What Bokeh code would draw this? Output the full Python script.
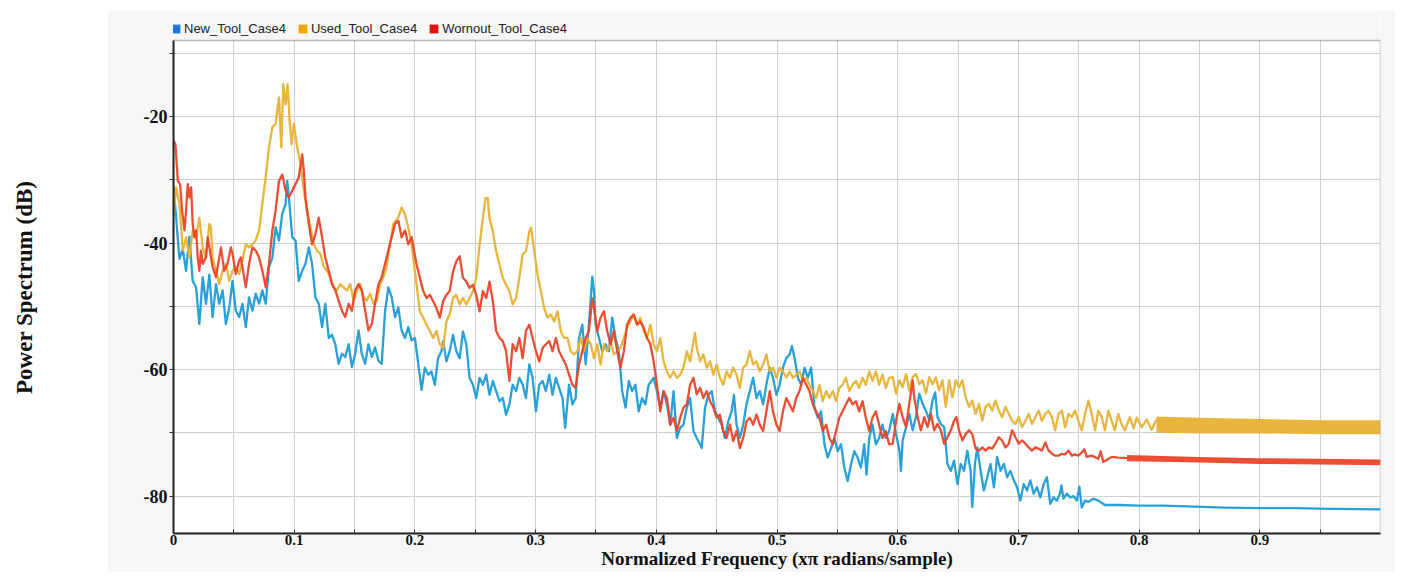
from bokeh.plotting import figure
from bokeh.models import Legend, LegendItem, FixedTicker, Range1d, Label, Spacer, BoxAnnotation
from bokeh.layouts import row, column
from bokeh.embed import file_html
from bokeh.resources import INLINE

# ---------------- data ----------------
series_names = ["New_Tool_Case4", "Used_Tool_Case4", "Wornout_Tool_Case4"]

x_ticks = [0, 0.1, 0.2, 0.3, 0.4, 0.5, 0.6, 0.7, 0.8, 0.9]
x_tick_labels = ["0", "0.1", "0.2", "0.3", "0.4", "0.5", "0.6", "0.7", "0.8", "0.9"]
y_ticks = [-80, -60, -40, -20]
y_tick_labels = ["-80", "-60", "-40", "-20"]

# (normalized frequency, power dB)
new_tool = [
    (0.0, -31.0), (0.0022, -36.0), (0.0049, -42.5), (0.0077, -41.0), (0.0104, -44.4), (0.0132, -39.0),
    (0.0159, -46.0), (0.0187, -47.0), (0.0214, -52.8), (0.0242, -45.4), (0.0269, -49.6), (0.0297, -45.0),
    (0.0324, -51.7), (0.0352, -46.5), (0.0379, -49.6), (0.0407, -47.5), (0.0434, -52.8), (0.0462, -50.2),
    (0.0489, -46.0), (0.0516, -50.7), (0.0544, -51.7), (0.0571, -49.6), (0.0599, -53.3), (0.0626, -48.6),
    (0.0654, -50.7), (0.0681, -48.0), (0.0709, -49.6), (0.0736, -47.5), (0.0764, -49.6), (0.0791, -43.8),
    (0.0819, -42.3), (0.0846, -37.5), (0.0874, -39.6), (0.0901, -35.4), (0.0929, -33.8), (0.0942, -30.2),
    (0.0956, -32.8), (0.0984, -39.1), (0.1011, -39.6), (0.1038, -46.0), (0.1066, -44.4), (0.1093, -43.3),
    (0.1121, -40.7), (0.1148, -43.3), (0.1176, -48.6), (0.1203, -49.6), (0.1231, -53.3), (0.1258, -49.6),
    (0.1286, -55.0), (0.1313, -54.5), (0.1341, -56.0), (0.1368, -59.1), (0.1396, -57.5), (0.1423, -58.0),
    (0.1451, -56.0), (0.1478, -59.6), (0.1505, -57.5), (0.1533, -53.8), (0.156, -57.5), (0.1588, -59.1),
    (0.1615, -56.0), (0.1643, -58.0), (0.167, -56.5), (0.1698, -58.6), (0.1725, -59.1), (0.1753, -50.7),
    (0.178, -47.0), (0.1808, -48.6), (0.1835, -51.7), (0.1863, -50.2), (0.189, -53.8), (0.1918, -55.0),
    (0.1945, -53.3), (0.1973, -55.4),
    (0.2, -55.0), (0.2041, -61.0), (0.2055, -63.2), (0.2082, -59.7), (0.211, -60.8), (0.2137, -60.3),
    (0.2165, -62.4), (0.2192, -58.2), (0.222, -57.1), (0.2234, -55.5), (0.2261, -58.7), (0.2288, -57.1),
    (0.2316, -54.5), (0.2343, -57.1), (0.2371, -58.2), (0.2398, -54.0), (0.2426, -56.0), (0.2453, -61.3),
    (0.2481, -62.4), (0.2508, -64.5), (0.2536, -61.3), (0.2563, -62.4), (0.2591, -60.8), (0.2618, -64.0),
    (0.2646, -61.8), (0.2673, -63.4), (0.2701, -65.0), (0.2728, -64.5), (0.2755, -67.1), (0.2783, -65.5),
    (0.281, -62.4), (0.2838, -63.4), (0.2865, -61.3), (0.2893, -62.4), (0.292, -64.5), (0.2948, -59.2),
    (0.2975, -61.3), (0.3003, -66.6), (0.303, -62.4), (0.3058, -61.8), (0.3085, -63.4), (0.3113, -60.8),
    (0.314, -64.0), (0.3168, -61.3), (0.3195, -62.9), (0.3223, -64.5), (0.3245, -69.2), (0.3277, -62.4),
    (0.3305, -65.5), (0.3332, -64.5), (0.336, -55.0), (0.3387, -52.9), (0.3415, -59.2), (0.3442, -52.9),
    (0.347, -45.3), (0.3484, -47.6), (0.3497, -52.9), (0.3525, -55.0), (0.3552, -57.1), (0.358, -56.0),
    (0.3607, -57.1), (0.3635, -51.8), (0.3662, -55.0), (0.369, -57.1), (0.3717, -63.4), (0.3745, -66.0),
    (0.3772, -61.8), (0.3799, -63.4), (0.3827, -62.4), (0.3854, -66.6), (0.3882, -64.5), (0.3909, -65.5),
    (0.3937, -62.4), (0.3978, -61.3), (0.4005, -63.4),
    (0.4033, -66.0), (0.406, -63.4), (0.4088, -65.5), (0.4115, -68.7), (0.4143, -63.4), (0.417, -70.8),
    (0.4198, -69.2), (0.4225, -68.7), (0.4253, -66.0), (0.428, -64.5), (0.4308, -69.7), (0.4335, -70.8),
    (0.4363, -71.8), (0.4376, -72.4), (0.4404, -66.0), (0.4431, -64.0), (0.4459, -63.4), (0.4486, -66.6),
    (0.4514, -67.6), (0.4541, -68.7), (0.4569, -70.8), (0.4596, -68.2), (0.4624, -66.6), (0.4643, -64.0),
    (0.4665, -68.7), (0.4692, -70.8), (0.472, -68.7), (0.4747, -65.5), (0.4775, -63.4), (0.4802, -61.3),
    (0.483, -64.5), (0.4857, -63.4), (0.4885, -65.5), (0.4912, -62.4), (0.494, -59.7), (0.4967, -61.3),
    (0.4995, -64.0), (0.5022, -62.4), (0.5049, -59.7), (0.5077, -58.2), (0.5104, -57.6), (0.5124, -56.3),
    (0.5146, -58.2), (0.5173, -61.3), (0.5201, -62.4), (0.5228, -59.7), (0.5255, -61.3), (0.5283, -59.7),
    (0.531, -66.0), (0.5338, -67.6), (0.5365, -66.6), (0.5393, -71.8), (0.542, -73.9), (0.5448, -72.4),
    (0.5475, -70.8), (0.5503, -72.9), (0.553, -71.8), (0.5558, -75.5), (0.5585, -77.6), (0.5613, -75.0),
    (0.564, -72.9), (0.5668, -73.9), (0.5695, -75.5), (0.5723, -71.8), (0.5742, -76.6), (0.5764, -70.8),
    (0.5791, -68.7), (0.5819, -71.8), (0.5846, -70.8), (0.5874, -68.7), (0.5901, -70.8), (0.5929, -69.7),
    (0.5959, -67.0), (0.5986, -70.2),
    (0.6014, -72.8), (0.6027, -76.0), (0.6041, -71.2), (0.6069, -69.1), (0.6096, -67.0), (0.6124, -69.6),
    (0.6151, -67.5), (0.6179, -63.8), (0.6206, -65.4), (0.6234, -66.5), (0.6261, -68.0), (0.6288, -64.9),
    (0.631, -63.6), (0.633, -67.5), (0.6357, -68.6), (0.6385, -69.1), (0.6412, -74.9), (0.644, -76.0),
    (0.6467, -74.4), (0.6495, -78.1), (0.6522, -74.9), (0.6549, -76.0), (0.6577, -72.8), (0.6604, -76.0),
    (0.6618, -81.7), (0.664, -74.9), (0.6659, -72.3), (0.6687, -76.0), (0.6714, -79.1), (0.6742, -77.0),
    (0.6769, -74.9), (0.6797, -78.6), (0.6824, -73.8), (0.6852, -76.0), (0.6879, -74.9), (0.6907, -77.0),
    (0.6934, -76.0), (0.6962, -77.5), (0.6989, -78.6), (0.7016, -80.7), (0.7044, -78.1), (0.7071, -79.1),
    (0.7099, -77.5), (0.7126, -79.6), (0.7154, -78.6), (0.7181, -80.2), (0.7209, -78.1), (0.7236, -77.0),
    (0.7264, -81.2), (0.7291, -80.2), (0.7319, -80.7), (0.7346, -79.5), (0.7356, -78.3), (0.7374, -80.4),
    (0.7401, -79.6), (0.7429, -80.2), (0.7456, -80.0), (0.7484, -80.7), (0.7505, -78.5), (0.7525, -81.8),
    (0.7552, -80.7), (0.758, -80.9), (0.7621, -80.4), (0.7662, -80.7), (0.7717, -81.4), (0.7772, -81.4),
    (0.7827, -81.4), (0.80, -81.5), (0.82, -81.5), (0.84, -81.6), (0.87, -81.8), (0.90, -81.9),
    (0.93, -81.9), (0.96, -82.0), (1.0, -82.1),
]

used_tool = [
    (0.0, -35.4), (0.0022, -31.2), (0.0049, -33.8), (0.0077, -41.2), (0.0104, -39.1), (0.0132, -42.3),
    (0.0159, -38.0), (0.0187, -39.1), (0.0214, -36.0), (0.0242, -40.7), (0.0269, -42.3), (0.0297, -37.0),
    (0.031, -37.5), (0.0324, -42.3), (0.0352, -44.4), (0.0379, -46.5), (0.0407, -44.4), (0.0434, -43.3),
    (0.0462, -46.0), (0.0489, -44.4), (0.0516, -43.8), (0.0544, -44.9), (0.0571, -42.8), (0.0599, -40.2),
    (0.0626, -40.7), (0.0654, -40.2), (0.0681, -39.6), (0.0709, -38.0), (0.0736, -33.8), (0.0764, -29.6),
    (0.0791, -24.9), (0.0819, -21.7), (0.0846, -21.2), (0.0874, -17.0), (0.0893, -24.9), (0.0909, -14.9),
    (0.0929, -18.1), (0.0945, -14.9), (0.0962, -20.7), (0.0978, -24.4), (0.0997, -21.2), (0.1025, -24.9),
    (0.1052, -27.5), (0.108, -31.7), (0.1107, -34.9), (0.1135, -37.5), (0.1162, -40.2), (0.119, -41.2),
    (0.1217, -41.7), (0.1245, -43.8), (0.1272, -44.4), (0.1299, -45.4), (0.1327, -47.0), (0.1354, -47.5),
    (0.1382, -46.5), (0.1409, -47.0), (0.1437, -47.5), (0.1464, -46.5), (0.1492, -49.1), (0.1519, -47.5),
    (0.1547, -46.5), (0.1574, -48.6), (0.1602, -49.1), (0.1629, -48.0), (0.1657, -49.6), (0.1684, -49.1),
    (0.1712, -46.5), (0.1739, -45.4), (0.1766, -43.8), (0.1794, -40.2), (0.1821, -37.0), (0.1863, -35.9),
    (0.189, -34.4), (0.1918, -35.5), (0.1945, -37.5), (0.1973, -40.2),
    (0.2014, -46.6), (0.2041, -50.8), (0.2069, -51.8), (0.2096, -52.9), (0.2124, -53.9), (0.2151, -55.0),
    (0.2179, -53.9), (0.2206, -56.0), (0.2234, -56.6), (0.2261, -52.4), (0.2288, -51.3), (0.2316, -48.7),
    (0.2343, -48.2), (0.2371, -49.7), (0.2398, -48.7), (0.2426, -49.7), (0.2453, -48.7), (0.2481, -47.6),
    (0.2508, -45.5), (0.2536, -40.3), (0.2563, -36.1), (0.2585, -32.9), (0.2604, -32.9), (0.2618, -36.1),
    (0.2646, -38.2), (0.2673, -41.3), (0.2701, -43.4), (0.2728, -45.5), (0.2755, -46.6), (0.2783, -47.6),
    (0.281, -49.7), (0.2838, -48.7), (0.2865, -45.5), (0.2893, -41.8), (0.292, -41.3), (0.2948, -38.2),
    (0.2962, -37.6), (0.2989, -41.3), (0.3016, -45.0), (0.3044, -47.6), (0.3071, -50.3), (0.3099, -51.8),
    (0.3126, -51.3), (0.3154, -52.4), (0.3181, -50.8), (0.3209, -53.9), (0.3236, -55.0), (0.3264, -55.0),
    (0.3291, -57.1), (0.3319, -57.6), (0.3346, -57.1), (0.3374, -55.0), (0.3401, -57.1), (0.3429, -55.0),
    (0.3456, -56.0), (0.3484, -58.2), (0.3511, -56.0), (0.3538, -59.2), (0.3566, -56.0), (0.3593, -57.1),
    (0.3621, -55.5), (0.3648, -57.6), (0.3676, -57.1), (0.3703, -56.6), (0.3731, -55.0), (0.3758, -53.4),
    (0.3786, -52.4), (0.3813, -51.3), (0.3841, -52.9), (0.3868, -51.8), (0.3896, -53.9), (0.3923, -55.0),
    (0.3951, -52.9), (0.3978, -56.0), (0.4005, -57.1),
    (0.4033, -55.0), (0.406, -58.7), (0.4088, -60.3), (0.4115, -61.3), (0.4143, -60.3), (0.417, -61.3),
    (0.4198, -60.8), (0.4225, -59.7), (0.4253, -57.1), (0.428, -58.7), (0.4308, -55.5), (0.4321, -54.2),
    (0.4335, -56.6), (0.4363, -58.7), (0.439, -57.6), (0.4418, -59.7), (0.4445, -58.7), (0.4473, -60.8),
    (0.45, -59.2), (0.4527, -61.3), (0.4555, -62.4), (0.4582, -60.3), (0.461, -61.3), (0.4637, -59.7),
    (0.4665, -60.8), (0.4692, -62.9), (0.472, -59.7), (0.4747, -59.2), (0.4775, -57.1), (0.4802, -59.2),
    (0.483, -58.7), (0.4857, -60.3), (0.4885, -59.2), (0.4912, -57.6), (0.494, -60.3), (0.4967, -59.7),
    (0.4995, -61.3), (0.5022, -59.7), (0.5049, -60.3), (0.5077, -61.3), (0.5104, -60.3), (0.5132, -61.3),
    (0.5159, -60.8), (0.5187, -60.3), (0.5214, -61.8), (0.5242, -61.3), (0.5269, -62.4), (0.5297, -63.4),
    (0.5324, -64.5), (0.5352, -62.4), (0.5379, -65.0), (0.5407, -63.4), (0.5434, -64.5), (0.5462, -63.4),
    (0.5489, -65.0), (0.5516, -62.9), (0.5544, -62.4), (0.5571, -61.3), (0.5599, -63.4), (0.5626, -62.4),
    (0.5654, -61.8), (0.5681, -62.9), (0.5709, -61.3), (0.5736, -62.4), (0.5764, -60.3), (0.5791, -61.8),
    (0.5819, -60.3), (0.5846, -62.4), (0.5874, -60.8), (0.5901, -62.9), (0.5929, -61.3), (0.5959, -61.2),
    (0.5986, -63.8),
    (0.6014, -61.7), (0.6041, -62.8), (0.6069, -60.7), (0.6096, -63.3), (0.6124, -61.2), (0.6151, -60.7),
    (0.6179, -62.3), (0.6206, -61.7), (0.6234, -63.8), (0.6261, -61.2), (0.6288, -62.3), (0.6316, -61.2),
    (0.6343, -63.3), (0.6371, -61.7), (0.6398, -65.9), (0.6426, -61.7), (0.6453, -64.4), (0.6481, -61.7),
    (0.6508, -62.8), (0.6536, -61.7), (0.6563, -64.4), (0.6591, -65.9), (0.6618, -64.9), (0.6646, -67.0),
    (0.6673, -65.4), (0.6701, -68.1), (0.6728, -65.9), (0.6755, -65.4), (0.6783, -66.5), (0.681, -64.9),
    (0.6838, -66.5), (0.6865, -67.5), (0.6893, -65.9), (0.692, -67.0), (0.6948, -68.1), (0.6975, -68.6),
    (0.7003, -67.5), (0.703, -69.1), (0.7058, -68.1), (0.7085, -67.0), (0.7113, -68.6), (0.714, -67.5),
    (0.7168, -66.5), (0.7195, -68.1), (0.7223, -67.0), (0.725, -66.5), (0.7277, -67.5), (0.7305, -69.6),
    (0.7332, -67.0), (0.736, -66.5), (0.7387, -69.1), (0.7415, -67.0), (0.7442, -67.5), (0.747, -66.5),
    (0.7497, -68.1), (0.7525, -69.6), (0.7552, -67.0), (0.758, -64.9), (0.7607, -67.0), (0.7635, -69.6),
    (0.7662, -66.5), (0.769, -67.5), (0.7717, -69.6), (0.7745, -66.5), (0.7772, -68.1), (0.7799, -69.6),
    (0.7827, -67.0), (0.7854, -68.6), (0.7882, -69.6), (0.7923, -67.5), (0.7954, -69.3), (0.7981, -67.6),
    (0.8022, -69.1), (0.8063, -67.9), (0.8103, -69.5), (0.8144, -67.9),
]

worn_tool = [
    (0.0, -23.8), (0.0016, -24.4), (0.0036, -30.2), (0.0055, -30.7), (0.0071, -34.9), (0.0091, -38.0),
    (0.0104, -34.9), (0.0118, -30.7), (0.0132, -32.8), (0.0146, -31.2), (0.0159, -37.0), (0.0173, -39.1),
    (0.0187, -38.0), (0.0201, -42.3), (0.0214, -44.4), (0.0228, -41.2), (0.0242, -43.3), (0.0269, -42.3),
    (0.0283, -39.1), (0.0297, -40.7), (0.0324, -43.8), (0.0352, -45.4), (0.0379, -42.3), (0.0393, -40.7),
    (0.042, -44.4), (0.0448, -43.3), (0.0475, -40.7), (0.0489, -41.7), (0.0516, -44.9), (0.0544, -42.8),
    (0.0558, -42.3), (0.0585, -45.4), (0.0599, -47.0), (0.0626, -43.3), (0.0654, -40.7), (0.0681, -41.2),
    (0.0709, -42.3), (0.0736, -44.4), (0.0764, -47.0), (0.0791, -43.3), (0.0819, -38.0), (0.0846, -34.9),
    (0.0874, -30.2), (0.0901, -29.2), (0.0929, -31.7), (0.0956, -32.8), (0.0984, -31.7), (0.1011, -30.7),
    (0.1038, -29.6), (0.1066, -26.0), (0.108, -28.6), (0.1093, -32.8), (0.1121, -37.0), (0.1148, -40.2),
    (0.1176, -38.6), (0.1203, -36.0), (0.1231, -39.1), (0.1258, -42.3), (0.1286, -44.4), (0.1313, -46.5),
    (0.1341, -47.5), (0.1368, -49.1), (0.1396, -50.7), (0.1423, -51.7), (0.1451, -49.6), (0.1478, -50.7),
    (0.1505, -47.5), (0.1533, -46.5), (0.156, -47.5), (0.1588, -50.7), (0.1615, -53.8), (0.1643, -52.8),
    (0.167, -49.6), (0.1698, -46.5), (0.1725, -45.4), (0.1753, -43.3), (0.178, -41.2), (0.1808, -39.1),
    (0.1835, -37.0), (0.1863, -36.5), (0.189, -39.1), (0.1918, -38.0), (0.1945, -40.2), (0.1973, -39.1),
    (0.2014, -43.4), (0.2041, -45.5), (0.2069, -47.6), (0.2096, -48.7), (0.2124, -48.2), (0.2151, -49.2),
    (0.2179, -50.3), (0.2206, -51.8), (0.2234, -49.2), (0.2261, -48.2), (0.2288, -47.6), (0.2316, -44.5),
    (0.2343, -42.9), (0.2371, -42.1), (0.2398, -45.5), (0.2426, -46.1), (0.2453, -47.1), (0.2481, -46.6),
    (0.2508, -48.2), (0.2536, -50.8), (0.2563, -47.6), (0.2591, -48.7), (0.2618, -46.1), (0.2646, -49.2),
    (0.2673, -53.9), (0.2701, -55.0), (0.2728, -55.5), (0.2755, -57.1), (0.2783, -61.8), (0.281, -56.0),
    (0.2838, -57.1), (0.2865, -55.0), (0.2893, -58.2), (0.292, -53.9), (0.2948, -52.9), (0.2975, -55.0),
    (0.3003, -57.1), (0.303, -58.7), (0.3058, -56.6), (0.3085, -56.0), (0.3113, -55.5), (0.314, -57.1),
    (0.3168, -55.0), (0.3195, -57.1), (0.3223, -58.2), (0.325, -59.2), (0.3277, -60.8), (0.3305, -62.4),
    (0.3332, -62.9), (0.336, -59.2), (0.3387, -57.1), (0.3415, -55.0), (0.3442, -53.9), (0.347, -48.7),
    (0.3484, -50.3), (0.3511, -53.9), (0.3538, -51.8), (0.3566, -50.8), (0.3593, -53.9), (0.3621, -56.0),
    (0.3648, -53.9), (0.3676, -57.1), (0.3703, -59.7), (0.3731, -57.1), (0.3758, -52.9), (0.3786, -51.8),
    (0.3813, -51.3), (0.3841, -52.9), (0.3868, -52.4), (0.3896, -53.4), (0.3923, -55.0), (0.3951, -56.0),
    (0.3978, -58.7), (0.4005, -62.4),
    (0.4033, -66.6), (0.406, -63.4), (0.4088, -64.5), (0.4115, -68.7), (0.4143, -67.6), (0.417, -69.7),
    (0.4198, -67.6), (0.4225, -66.0), (0.4253, -65.5), (0.428, -62.4), (0.4308, -61.3), (0.4335, -63.9),
    (0.4363, -62.9), (0.439, -64.5), (0.4418, -63.4), (0.4445, -65.0), (0.4473, -66.0), (0.45, -67.6),
    (0.4527, -67.1), (0.4555, -69.7), (0.4582, -70.8), (0.461, -68.7), (0.4637, -71.3), (0.4665, -69.7),
    (0.4692, -72.4), (0.472, -70.8), (0.4747, -68.2), (0.4775, -67.6), (0.4802, -68.7), (0.483, -67.1),
    (0.4857, -68.7), (0.4885, -69.7), (0.4912, -66.6), (0.494, -63.4), (0.4967, -66.6), (0.4995, -68.7),
    (0.5022, -69.7), (0.5049, -66.6), (0.5077, -64.5), (0.5104, -65.5), (0.5132, -66.6), (0.5159, -64.5),
    (0.5187, -63.4), (0.5214, -61.3), (0.5242, -62.4), (0.5269, -63.4), (0.5297, -65.5), (0.5324, -66.6),
    (0.5352, -67.6), (0.5379, -69.7), (0.5407, -68.7), (0.5434, -70.8), (0.5462, -71.8), (0.5489, -69.7),
    (0.5516, -67.6), (0.5544, -66.6), (0.5571, -65.5), (0.5599, -64.5), (0.5626, -65.5), (0.5654, -65.0),
    (0.5681, -66.6), (0.5709, -65.0), (0.5736, -67.6), (0.5764, -69.7), (0.5791, -67.6), (0.5819, -66.6),
    (0.5846, -68.7), (0.5874, -70.8), (0.5901, -69.7), (0.5929, -71.8), (0.5959, -71.7), (0.5986, -68.1),
    (0.6014, -65.4), (0.6041, -67.5), (0.6069, -69.1), (0.6096, -65.4), (0.6124, -61.7), (0.6137, -64.4),
    (0.6165, -67.5), (0.6192, -69.6), (0.622, -67.5), (0.6247, -69.1), (0.6275, -67.0), (0.6302, -69.6),
    (0.633, -68.6), (0.6357, -69.6), (0.6385, -71.7), (0.6412, -70.7), (0.644, -69.6), (0.6467, -68.1),
    (0.6486, -67.5), (0.6508, -69.6), (0.6536, -71.2), (0.6563, -70.2), (0.6591, -69.6), (0.6618, -70.2),
    (0.6646, -72.5), (0.6673, -72.8), (0.6701, -72.3), (0.6728, -72.8), (0.6755, -72.3), (0.6783, -72.5),
    (0.681, -71.7), (0.6838, -70.7), (0.6865, -71.2), (0.6893, -72.3), (0.692, -71.7), (0.6948, -69.6),
    (0.6975, -70.7), (0.7003, -71.7), (0.703, -71.2), (0.7058, -71.7), (0.7085, -72.3), (0.7113, -72.8),
    (0.714, -72.3), (0.7168, -72.5), (0.7195, -72.8), (0.7223, -71.5), (0.725, -72.8), (0.7277, -73.3),
    (0.7305, -73.6), (0.7332, -73.6), (0.736, -73.3), (0.7387, -73.4), (0.7415, -72.8), (0.7442, -73.6),
    (0.747, -73.4), (0.7497, -73.6), (0.7525, -73.1), (0.7546, -72.6), (0.7566, -73.8), (0.7607, -73.6),
    (0.7662, -74.1), (0.7682, -72.9), (0.7703, -74.6), (0.7772, -73.8), (0.7827, -73.9), (0.79, -74.0),
]

# dense, rapidly oscillating tails drawn as their upper / lower envelope
used_band_freq = [0.8144, 0.85, 0.90, 0.95, 1.0]
used_band_hi = [-67.4, -67.6, -67.8, -68.0, -68.0]
used_band_lo = [-70.0, -70.1, -70.1, -70.2, -70.2]

worn_band_freq = [0.79, 0.85, 0.90, 0.95, 1.0]
worn_band_hi = [-73.5, -73.8, -74.0, -74.1, -74.2]
worn_band_lo = [-74.5, -74.7, -74.9, -75.0, -75.1]

# ---------------- styling ----------------
LINE_COLORS = ["#1c9bd7", "#e9b132", "#ea4527"]
KEY_COLORS = ["#1f78d1", "#f2a500", "#e3100f"]
SERIF = "Liberation Serif"
PANEL = "#f6f6f6"
Y_BOTTOM, Y_TOP = -85.9, -8.0      # extent of the plotting box
Y_VIEW_TOP = -3.58                 # frame reaches up into the legend strip

x_grid_minor = [0.05, 0.15, 0.25, 0.35, 0.45, 0.55, 0.65, 0.75, 0.85, 0.95]
y_grid_minor = [-70, -50, -30, -10]

p = figure(width=1288, height=562, x_range=Range1d(0, 1), y_range=Range1d(Y_BOTTOM, Y_VIEW_TOP),
           output_backend="svg", toolbar_location=None,
           min_border_left=66, min_border_right=15, min_border_top=2, min_border_bottom=39,
           border_fill_color=PANEL, background_fill_color="#ffffff", outline_line_color=None)

p.xaxis.ticker = FixedTicker(ticks=x_ticks, minor_ticks=x_grid_minor)
p.xaxis.major_label_overrides = dict(zip(x_ticks, x_tick_labels))
p.yaxis.ticker = FixedTicker(ticks=y_ticks, minor_ticks=y_grid_minor)
p.yaxis.major_label_overrides = dict(zip(y_ticks, y_tick_labels))
p.yaxis.bounds = (Y_BOTTOM, Y_TOP)

for ax in (p.xaxis[0], p.yaxis[0]):
    ax.axis_line_color = "#222222"
    ax.axis_line_width = 2
    ax.major_label_text_font = SERIF
    ax.major_label_text_font_style = "bold"
    ax.major_label_text_color = "#111111"
    ax.major_tick_line_color = "#333333"
    ax.minor_tick_line_color = "#333333"

p.xaxis.major_label_text_font_size = "15px"
p.xaxis.major_tick_in = 4
p.xaxis.major_tick_out = 0
p.xaxis.minor_tick_in = 4
p.xaxis.minor_tick_out = 0
p.xaxis.major_label_standoff = 1
p.xaxis.axis_label = "Normalized Frequency (x\u03c0 radians/sample)"
p.xaxis.axis_label_text_font = SERIF
p.xaxis.axis_label_text_font_style = "bold"
p.xaxis.axis_label_text_font_size = "19px"
p.xaxis.axis_label_text_color = "#111111"
p.xaxis.axis_label_standoff = 0

p.yaxis.major_label_text_font_size = "18px"
p.yaxis.major_tick_in = 0
p.yaxis.major_tick_out = 4
p.yaxis.minor_tick_in = 0
p.yaxis.minor_tick_out = 4
p.yaxis.major_label_standoff = 2

p.grid.grid_line_color = "#cfcfcf"
p.grid.minor_grid_line_color = "#cfcfcf"
p.grid.grid_line_width = 1

# strip above the plotting box gets the panel colour (hides the grid there)
p.add_layout(BoxAnnotation(bottom=Y_TOP, fill_color=PANEL, fill_alpha=1.0, line_alpha=0,
                           level="underlay"))
# outline of the plotting box
p.add_layout(BoxAnnotation(left=0, right=1, bottom=Y_BOTTOM, top=Y_TOP, fill_alpha=0,
                           line_color="#2b2b2b", line_width=1.5))

series = [new_tool, used_tool, worn_tool]
for pts, col in zip(series, LINE_COLORS):
    xs = [a for a, b in pts]
    ys = [b for a, b in pts]
    p.line(xs, ys, line_color=col, line_width=2.3, line_alpha=0.95, line_join="round")
    if pts is used_tool:
        p.varea(x=used_band_freq, y1=used_band_lo, y2=used_band_hi, fill_color=col, fill_alpha=0.95)
    if pts is worn_tool:
        p.varea(x=worn_band_freq, y1=worn_band_lo, y2=worn_band_hi, fill_color=col, fill_alpha=0.95)

# legend keys (coloured squares; proxies that draw nothing in the plot)
nan = float("nan")
keys = [p.quad(left=[nan], right=[nan], bottom=[nan], top=[nan], fill_color=c, line_color=None)
        for c in KEY_COLORS]
legend = Legend(items=[LegendItem(label=n, renderers=[r]) for n, r in zip(series_names, keys)],
                orientation="horizontal", location=(-3, 497), margin=0, padding=0,
                glyph_width=11, glyph_height=11, label_standoff=3, spacing=11,
                label_height=11, label_text_font="Liberation Sans", label_text_font_size="13px",
                label_text_color="#222222", border_line_color=None, background_fill_alpha=0)
p.add_layout(legend)

# left strip holding the vertical axis title (shares the dB range so it lines up with the frame)
lf = figure(width=107, height=562, x_range=Range1d(0, 107), y_range=p.y_range,
            output_backend="svg", toolbar_location=None, x_axis_location=None, y_axis_location=None,
            min_border=0, min_border_top=2, min_border_bottom=39,
            outline_line_color=None, background_fill_color="#ffffff", border_fill_color="#ffffff")
lf.grid.visible = False
lf.add_layout(Label(x=24, y=-47.0, text="Power Spectrum (dB)", angle=90, angle_units="deg",
                    text_align="center", text_baseline="middle", text_font=SERIF,
                    text_font_style="bold", text_font_size="23px", text_color="#111111"))

layout = column(Spacer(width=1395, height=10), row(lf, p))
open("out.html", "w").write(file_html(layout, INLINE))
